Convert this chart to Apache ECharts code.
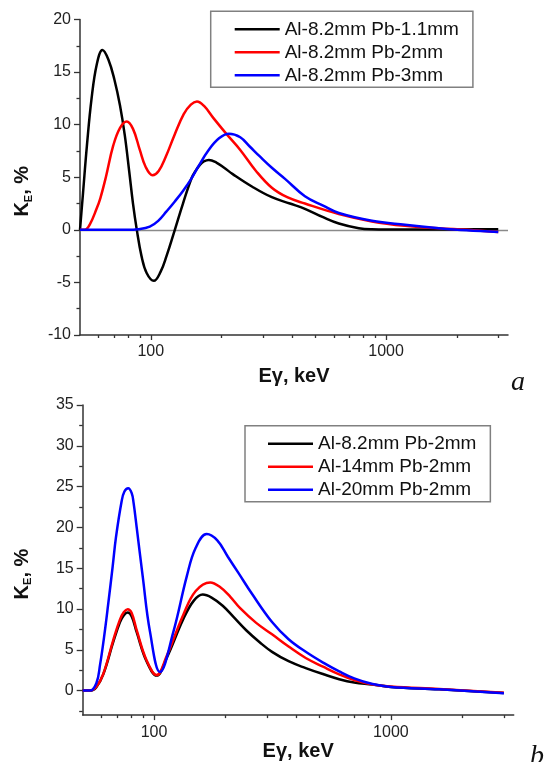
<!DOCTYPE html>
<html>
<head>
<meta charset="utf-8">
<script src="https://cdn.jsdelivr.net/npm/echarts@6/dist/echarts.min.js"></script>
<style>
  html, body { margin: 0; padding: 0; background: #fff; }
  #chart { width: 544px; height: 762px; }
</style>
</head>
<body>
<div id="chart"></div>
<script>
// ---- panel (a): Al-8.2mm with different Pb thickness ----
const aNames = ['Al-8.2mm Pb-1.1mm', 'Al-8.2mm Pb-2mm', 'Al-8.2mm Pb-3mm'];
const aBlackE = [50, 51.5, 53.5, 56, 59, 62.3, 66, 70, 74, 77.5, 81, 84, 87.2, 91.3, 96, 103, 110, 116.6, 126.5, 137, 149, 155, 162, 168, 176.6, 190, 205, 223, 270, 327, 390, 452, 540, 630, 766, 871, 1200, 1700, 2400, 3000];
const aBlackK = [0, 3.5, 8, 12.5, 15.8, 17.1, 16.2, 14.3, 11.8, 9.0, 5.5, 2.5, 0, -2.5, -4.1, -4.85, -4.0, -2.5, 0, 2.5, 4.9, 5.6, 6.2, 6.5, 6.65, 6.4, 5.9, 5.3, 4.1, 3.1, 2.5, 2.0, 1.2, 0.6, 0.15, 0.05, 0.02, 0.03, 0.05, 0.05];
const aRedE = [50, 52.4, 55, 58.8, 61, 64.4, 69.2, 74, 79, 84, 89.8, 95, 101.7, 108, 116, 126, 138, 148, 157, 168, 185, 210, 240, 280, 327, 380, 452, 630, 871, 1205, 1676, 2200, 3000];
const aRedK = [0, 0, 0.5, 2.0, 3.0, 5.0, 8.0, 9.7, 10.3, 9.6, 7.6, 6.0, 5.2, 5.6, 7.0, 9.0, 11.0, 11.9, 12.2, 11.8, 10.6, 9.1, 7.6, 5.6, 4.0, 3.1, 2.5, 1.5, 0.8, 0.38, 0.15, 0.0, -0.2];
const aBlueE = [50, 80, 88, 99, 108, 116.6, 126.5, 137, 149, 160, 175, 195, 215, 240, 264, 290, 327, 372, 452, 540, 630, 871, 1205, 1676, 2200, 3000];
const aBlueK = [0, 0, 0.05, 0.3, 0.9, 1.75, 2.7, 3.7, 4.9, 6.1, 7.5, 8.7, 9.14, 8.8, 7.9, 7.0, 5.9, 4.85, 3.2, 2.3, 1.6, 0.86, 0.48, 0.16, -0.05, -0.2];

// ---- panel (b): Pb-2mm with different Al thickness ----
const bNames = ['Al-8.2mm Pb-2mm', 'Al-14mm Pb-2mm', 'Al-20mm Pb-2mm'];
const bBlackE = [50, 53.6, 57, 61, 67.3, 71.8, 74.5, 77.4, 80.5, 84.5, 93.1, 102.6, 113, 133, 147, 160.6, 175, 195, 217, 245, 280, 315, 370, 437, 520, 605, 700, 837, 1000, 1600, 3000];
const bBlackK = [0, 0, 0.4, 1.96, 5.96, 8.36, 9.2, 9.56, 9.1, 7.16, 3.56, 1.84, 3.96, 8.77, 11.0, 11.77, 11.4, 10.4, 9.0, 7.4, 5.9, 4.75, 3.6, 2.76, 2.0, 1.4, 1.0, 0.76, 0.45, 0.16, -0.3];
const bRedE = [50, 53.6, 57, 61, 67.3, 71.8, 74.5, 77.4, 80.5, 84.5, 93.1, 102.6, 113, 133, 150, 172.6, 190, 210, 231, 270, 315, 370, 437, 520, 605, 700, 837, 1000, 1600, 3000];
const bRedK = [0, 0, 0.45, 2.0, 6.2, 8.7, 9.6, 9.97, 9.5, 7.4, 3.7, 1.9, 4.2, 9.3, 12.2, 13.25, 12.7, 11.5, 10.1, 8.3, 6.9, 5.4, 4.0, 2.9, 2.0, 1.3, 0.76, 0.5, 0.2, -0.25];
const bBlueE = [50, 53.6, 57.1, 59.2, 61.5, 64, 66.9, 69.1, 73, 75, 77.8, 80.5, 82, 84.5, 89.6, 96.2, 106, 120.7, 137.5, 150, 167, 185, 205, 227.5, 260, 315, 370, 437, 520, 605, 700, 837, 1000, 1600, 3000];
const bBlueK = [0, 0, 0.9, 3.18, 6.5, 10.5, 15.2, 18.8, 23.2, 24.4, 24.8, 24.2, 23.0, 20, 14.0, 7.2, 2.28, 7.2, 14.0, 17.5, 19.18, 18.4, 16.4, 14.4, 11.8, 8.4, 6.3, 4.76, 3.4, 2.36, 1.5, 0.8, 0.45, 0.16, -0.32];

// tick values
const xMajor = [100, 1000];
const xMinor = [60, 70, 80, 90, 200, 300, 400, 500, 600, 700, 800, 900, 2000, 3000];
const bYMajor = [0, 5, 10, 15, 20, 25, 30, 35];
const bYMinor = [-2.5, 2.5, 7.5, 12.5, 17.5, 22.5, 27.5, 32.5];

const FONT = 'Arial, "Liberation Sans", sans-serif';
const AXIS_COLOR = '#333';

function zip(xs, ys) {
  return xs.map((x, i) => [x, ys[i]]);
}

function xAxes(gridIndex, nameGap) {
  return [{
    type: 'log', logBase: 10, gridIndex: gridIndex, position: 'bottom',
    min: 50, max: 3300,
    name: 'Eγ, keV', nameLocation: 'middle', nameGap: nameGap,
    nameTextStyle: { fontSize: 20, fontWeight: 'bold', fontFamily: FONT, color: '#111' },
    axisLine: { show: true, onZero: false, lineStyle: { color: AXIS_COLOR, width: 1.5 } },
    axisTick: { show: true, length: 5, customValues: xMajor, lineStyle: { color: AXIS_COLOR, width: 1.3 } },
    axisLabel: {
      customValues: xMajor, fontSize: 16, fontFamily: FONT, color: '#222', margin: 9,
      formatter: v => String(Math.round(v))
    },
    splitLine: { show: false },
    minorTick: { show: false }
  }, {
    type: 'log', logBase: 10, gridIndex: gridIndex, position: 'bottom',
    min: 50, max: 3300,
    axisLine: { show: false, onZero: false },
    axisTick: { show: true, length: 3, customValues: xMinor, lineStyle: { color: AXIS_COLOR, width: 1.3 } },
    axisLabel: { show: false },
    splitLine: { show: false }
  }];
}

function yName(nameGap) {
  return {
    name: '{k|K}{e|E}{n|, %}',
    nameLocation: 'middle', nameRotate: 90, nameGap: nameGap,
    nameTextStyle: {
      padding: [0, 28, 0, 0],
      rich: {
        k: { fontSize: 20, fontWeight: 'bold', fontFamily: FONT, color: '#111' },
        e: { fontSize: 11, fontWeight: 'bold', fontFamily: FONT, color: '#111', padding: [12, 0, 0, 0] },
        n: { fontSize: 20, fontWeight: 'bold', fontFamily: FONT, color: '#111' }
      }
    }
  };
}

function lineSeries(name, data, color, xi, yi, extra) {
  return Object.assign({
    type: 'line', name: name, data: data,
    xAxisIndex: xi, yAxisIndex: yi,
    symbol: 'none', showSymbol: false, smooth: 0.4,
    lineStyle: { color: color, width: 2.5 },
    itemStyle: { color: color },
    z: 3
  }, extra || {});
}

function legendBox(names, left, top, padding) {
  return {
    orient: 'vertical', left: left, top: top,
    data: names, icon: 'rect', itemWidth: 45, itemHeight: 2.5, itemGap: 3,
    padding: padding,
    borderColor: '#808080', borderWidth: 1.5, backgroundColor: '#fff',
    selectedMode: false,
    formatter: n => n.replace(/^b:/, ''),
    textStyle: { fontSize: 19, fontFamily: FONT, color: '#111', lineHeight: 20 }
  };
}

var chart = echarts.init(document.getElementById('chart'), null, { renderer: 'canvas' });

var option = {
  backgroundColor: '#fff',
  animation: false,
  grid: [
    { left: 80, top: 19.5, width: 428, height: 315.5 },
    { left: 82.7, top: 405, width: 431, height: 316.7 }
  ],
  xAxis: xAxes(0, 31).concat(xAxes(1, 25)),
  yAxis: [
    Object.assign({
      type: 'value', gridIndex: 0, min: -10, max: 20, interval: 5,
      axisLine: { show: true, onZero: false, lineStyle: { color: AXIS_COLOR, width: 1.5 } },
      axisTick: { show: true, length: 6, lineStyle: { color: AXIS_COLOR, width: 1.3 } },
      minorTick: { show: true, splitNumber: 2, length: 3.5, lineStyle: { color: AXIS_COLOR, width: 1.3 } },
      axisLabel: { fontSize: 16, fontFamily: FONT, color: '#222', margin: 9 },
      splitLine: { show: false }
    }, yName(46)),
    Object.assign({
      type: 'value', gridIndex: 1, min: -3, max: 35, position: 'left',
      axisLine: { show: true, onZero: false, lineStyle: { color: AXIS_COLOR, width: 1.5 } },
      axisTick: { show: true, length: 6, customValues: bYMajor, lineStyle: { color: AXIS_COLOR, width: 1.3 } },
      axisLabel: { customValues: bYMajor, fontSize: 16, fontFamily: FONT, color: '#222', margin: 9 },
      splitLine: { show: false }
    }, yName(49)),
    {
      type: 'value', gridIndex: 1, min: -3, max: 35, position: 'left',
      axisLine: { show: false, onZero: false },
      axisTick: { show: true, length: 3.5, customValues: bYMinor, lineStyle: { color: AXIS_COLOR, width: 1.3 } },
      axisLabel: { show: false },
      splitLine: { show: false }
    }
  ],
  legend: [
    legendBox(aNames, 210.7, 11.3, [8, 14, 2, 24]),
    legendBox(bNames.map(n => 'b:' + n), 245, 425.7, [8, 14, 2, 23])
  ],
  series: [
    lineSeries(aNames[0], zip(aBlackE, aBlackK), '#000000', 0, 0, {
      markLine: {
        silent: true, symbol: 'none', label: { show: false },
        lineStyle: { color: '#8a8a8a', width: 1.3, type: 'solid' },
        data: [{ yAxis: 0 }], z: 1
      }
    }),
    lineSeries(aNames[1], zip(aRedE, aRedK), '#ff0000', 0, 0),
    lineSeries(aNames[2], zip(aBlueE, aBlueK), '#0000ff', 0, 0),
    lineSeries('b:' + bNames[0], zip(bBlackE, bBlackK), '#000000', 2, 1),
    lineSeries('b:' + bNames[1], zip(bRedE, bRedK), '#ff0000', 2, 1),
    lineSeries('b:' + bNames[2], zip(bBlueE, bBlueK), '#0000ff', 2, 1)
  ],
  graphic: [
    { type: 'text', x: 511, y: 383, style: { text: 'a', font: 'italic 28px "Liberation Serif", "Times New Roman", serif', fill: '#111', verticalAlign: 'middle' } },
    { type: 'text', x: 530, y: 757, style: { text: 'b', font: 'italic 28px "Liberation Serif", "Times New Roman", serif', fill: '#111', verticalAlign: 'middle' } }
  ]
};

chart.setOption(option);
</script>
</body>
</html>
